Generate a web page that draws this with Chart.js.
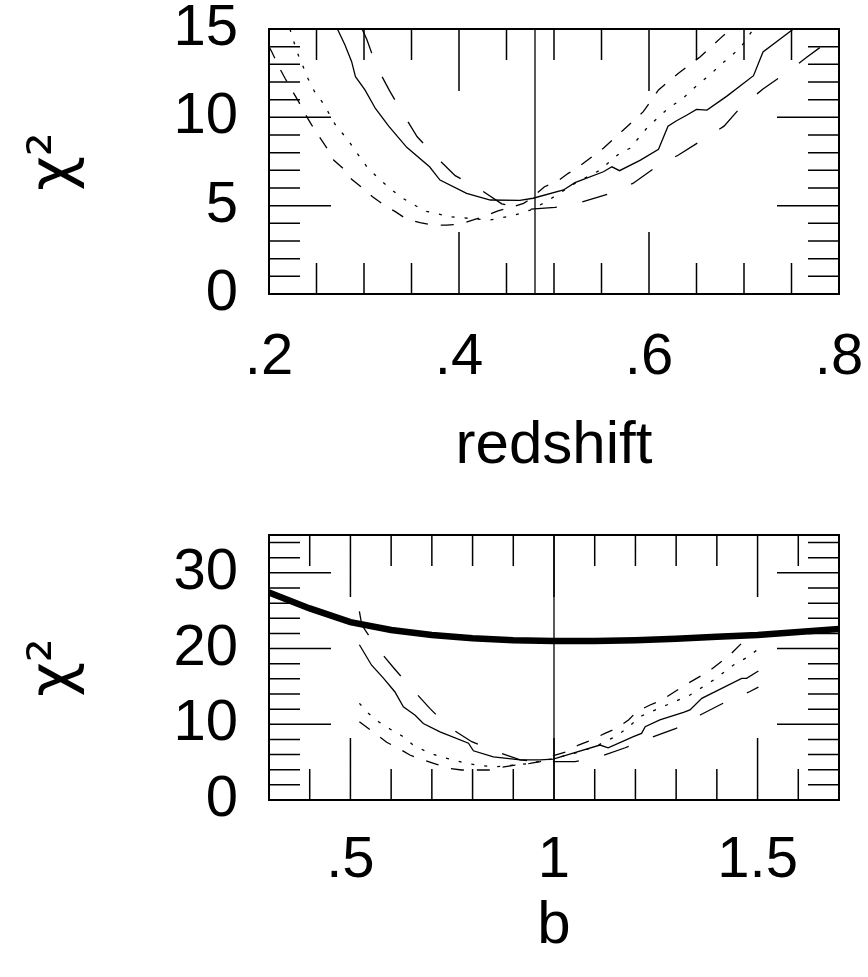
<!DOCTYPE html>
<html>
<head>
<meta charset="utf-8">
<script src="https://cdn.jsdelivr.net/npm/chart.js@4.4.1/dist/chart.umd.min.js"></script>
<style>
  body { margin: 0; background: #fff; }
  canvas { display: block; position: absolute; left: 0; }
  #topChart { top: 0; }
  #bottomChart { top: 490px; }
</style>
</head>
<body>
<canvas id="topChart" width="868" height="490"></canvas>
<canvas id="bottomChart" width="868" height="487"></canvas>
<script>
// --- top panel: chi^2 against redshift ---
const zTicks = [0.2, 0.4, 0.6, 0.8];
const chiTopTicks = [0, 5, 10, 15];
const zBest = 0.48;

const zSolid = [0.272, 0.280, 0.287, 0.291, 0.301, 0.312, 0.326, 0.345, 0.369, 0.380, 0.408, 0.433, 0.464, 0.478, 0.510, 0.522, 0.552, 0.561, 0.569, 0.591, 0.610, 0.620, 0.629, 0.640, 0.650, 0.661, 0.682, 0.710, 0.720, 0.752];
const chiSolid = [15.0, 14.1, 13.15, 12.3, 11.55, 10.5, 9.5, 8.3, 7.2, 6.45, 5.7, 5.32, 5.3, 5.42, 5.89, 6.3, 6.92, 7.2, 6.98, 7.58, 8.19, 9.5, 9.81, 10.13, 10.45, 10.41, 11.2, 12.36, 13.7, 15.0];

const zLongDash = [0.298, 0.303, 0.313, 0.327, 0.341, 0.356, 0.375, 0.396, 0.420, 0.445, 0.473, 0.501, 0.529, 0.557, 0.583, 0.605, 0.631, 0.655, 0.679, 0.697, 0.720, 0.744, 0.766, 0.790, 0.800];
const chiLongDash = [15.0, 14.4, 12.9, 11.5, 10.2, 8.9, 7.8, 6.7, 6.0, 5.1, 4.8, 4.9, 5.2, 5.66, 6.26, 7.1, 7.87, 8.68, 9.5, 10.6, 11.6, 12.5, 13.4, 14.35, 14.8];

const zShortDash = [0.200, 0.203, 0.210, 0.217, 0.224, 0.231, 0.238, 0.245, 0.253, 0.261, 0.268, 0.278, 0.287, 0.299, 0.309, 0.321, 0.333, 0.345, 0.359, 0.373, 0.387, 0.401, 0.415, 0.427, 0.441, 0.455, 0.468, 0.476, 0.490, 0.503, 0.515, 0.527, 0.540, 0.552, 0.573, 0.594, 0.610, 0.631, 0.654, 0.675, 0.686];
const chiShortDash = [14.0, 13.7, 12.9, 12.2, 11.55, 10.9, 10.2, 9.56, 8.9, 8.25, 7.58, 7.11, 6.49, 5.98, 5.51, 5.04, 4.66, 4.23, 4.04, 3.9, 3.9, 3.96, 4.19, 4.41, 4.7, 4.91, 5.13, 5.42, 6.07, 6.36, 6.83, 7.24, 7.77, 8.25, 9.28, 10.32, 11.55, 12.5, 13.43, 14.47, 15.0];

const zDotted = [0.222, 0.226, 0.231, 0.236, 0.241, 0.248, 0.257, 0.271, 0.282, 0.289, 0.298, 0.303, 0.317, 0.338, 0.350, 0.364, 0.390, 0.419, 0.433, 0.459, 0.475, 0.491, 0.522, 0.548, 0.569, 0.580, 0.599, 0.610, 0.622, 0.634, 0.645, 0.655, 0.666, 0.677, 0.687, 0.697, 0.706, 0.710];
const chiDotted = [15.0, 14.3, 13.5, 12.86, 12.2, 11.45, 10.8, 9.47, 8.81, 8.25, 7.58, 7.2, 6.45, 5.51, 5.13, 4.7, 4.38, 4.24, 4.19, 4.47, 4.75, 5.2, 6.26, 7.0, 7.96, 8.25, 9.47, 10.0, 10.6, 10.98, 11.55, 12.0, 12.5, 13.05, 13.5, 14.0, 14.7, 15.0];

// --- bottom panel: chi^2 against b ---
const bTicks = [0.5, 1, 1.5];
const chiBottomTicks = [0, 10, 20, 30];
const bBest = 1.0;

const bThick = [0.3, 0.4, 0.5, 0.6, 0.7, 0.8, 0.9, 1.0, 1.1, 1.2, 1.3, 1.4, 1.5, 1.6, 1.7];
const chiThick = [27.4, 25.3, 23.5, 22.45, 21.8, 21.35, 21.1, 21.0, 21.0, 21.1, 21.3, 21.55, 21.8, 22.2, 22.6];

const bSolid = [0.522, 0.552, 0.581, 0.609, 0.630, 0.659, 0.679, 0.720, 0.790, 0.802, 0.851, 0.917, 0.966, 0.998, 1.047, 1.113, 1.133, 1.195, 1.215, 1.224, 1.260, 1.318, 1.334, 1.363, 1.461, 1.473, 1.502];
const chiSolidB = [20.5, 17.8, 16.1, 14.3, 12.3, 11.2, 10.1, 9.0, 7.5, 6.5, 5.7, 5.3, 5.3, 5.4, 6.2, 7.26, 6.9, 8.37, 8.8, 9.69, 10.57, 11.58, 11.9, 13.43, 16.07, 16.07, 17.04];

const bLongDash = [0.522, 0.528, 0.565, 0.607, 0.650, 0.695, 0.740, 0.798, 0.859, 0.917, 0.966, 1.052, 1.121, 1.175, 1.240, 1.300, 1.359, 1.420, 1.480, 1.502];
const chiLongDashB = [24.9, 23.1, 20.1, 17.4, 14.75, 12.1, 9.68, 7.7, 6.38, 5.3, 5.06, 5.06, 5.9, 6.9, 8.28, 9.47, 11.23, 12.9, 14.3, 14.9];

const bShortDash = [0.522, 0.536, 0.560, 0.589, 0.618, 0.646, 0.679, 0.712, 0.740, 0.773, 0.806, 0.841, 0.872, 0.904, 0.941, 0.966, 1.003, 1.031, 1.060, 1.088, 1.125, 1.154, 1.183, 1.203, 1.236, 1.265, 1.322, 1.379, 1.432, 1.477];
const chiShortDashB = [10.34, 9.77, 8.81, 7.62, 6.83, 5.94, 5.28, 4.71, 4.19, 3.96, 3.96, 3.96, 4.32, 4.62, 4.84, 5.06, 5.94, 6.38, 7.26, 7.83, 8.8, 9.47, 10.57, 11.66, 12.55, 13.2, 15.19, 16.95, 19.15, 21.57];

const bDotted = [0.522, 0.544, 0.569, 0.597, 0.626, 0.654, 0.687, 0.720, 0.753, 0.786, 0.822, 0.855, 0.888, 0.941, 0.982, 1.040, 1.101, 1.158, 1.216, 1.277, 1.334, 1.392, 1.441, 1.477, 1.502];
const chiDottedB = [12.77, 11.45, 10.34, 9.38, 8.49, 7.26, 6.38, 5.72, 5.28, 4.84, 4.53, 4.4, 4.53, 4.84, 5.28, 6.0, 7.04, 8.59, 11.13, 12.55, 13.87, 15.85, 17.83, 18.93, 19.94];

Chart.defaults.font.family = '"Liberation Sans", Arial, Helvetica, sans-serif';
Chart.defaults.color = '#000';

const toPoints = (xs, ys) => xs.map((x, i) => ({ x: x, y: ys[i] }));
const shortNum = v => String(v).replace(/^0\./, '.');

function curve(xs, ys, dash, width) {
    return {
        data: toPoints(xs, ys),
        showLine: true,
        borderColor: '#000',
        borderWidth: width || 1.3,
        borderDash: dash || [],
        borderCapStyle: width ? 'round' : 'butt',
        pointRadius: 0,
        tension: 0
    };
}

// walk the minor tick positions of an axis, flagging the major ones
function eachTick(min, max, step, major, fn) {
    const k0 = Math.ceil(min / step - 1e-6);
    const k1 = Math.floor(max / step + 1e-6);
    for (let k = k0; k <= k1; k++) {
        const v = k * step;
        if (Math.abs(v - min) < 1e-6 || Math.abs(v - max) < 1e-6) continue;
        const r = v / major;
        fn(v, Math.abs(r - Math.round(r)) < 1e-6);
    }
}

// box frame with inward minor/major ticks on all four sides
const frameTicks = {
    id: 'frameTicks',
    afterDatasetsDraw(chart, args, opts) {
        const { ctx, chartArea: a, scales: { x, y } } = chart;
        ctx.save();
        ctx.strokeStyle = '#000';
        ctx.lineWidth = 1.5;
        ctx.beginPath();
        eachTick(x.min, x.max, opts.xMinor, opts.xMajor, (v, major) => {
            const px = x.getPixelForValue(v);
            const len = major ? opts.majorLen : opts.minorLen;
            ctx.moveTo(px, a.bottom); ctx.lineTo(px, a.bottom - len);
            ctx.moveTo(px, a.top); ctx.lineTo(px, a.top + len);
        });
        eachTick(y.min, y.max, opts.yMinor, opts.yMajor, (v, major) => {
            const py = y.getPixelForValue(v);
            const len = major ? opts.majorLen : opts.minorLen;
            ctx.moveTo(a.left, py); ctx.lineTo(a.left + len, py);
            ctx.moveTo(a.right, py); ctx.lineTo(a.right - len, py);
        });
        ctx.stroke();
        ctx.lineWidth = 2;
        ctx.strokeRect(a.left, a.top, a.right - a.left, a.bottom - a.top);
        ctx.restore();
    }
};

function axisOptions(cfg) {
    return {
        x: {
            type: 'linear',
            min: cfg.xMin,
            max: cfg.xMax,
            grid: { display: false, drawTicks: false },
            border: { display: false },
            afterBuildTicks: s => { s.ticks = cfg.xTicks.map(value => ({ value })); },
            // fixed band below the plot; labels may hang over the sides
            afterFit: s => { s.height = cfg.xHeight; s.paddingLeft = 0; s.paddingRight = 0; },
            ticks: { font: { size: 58 }, padding: cfg.xPad, maxRotation: 0, callback: shortNum },
            title: { display: true, text: cfg.xTitle, font: { size: 60 }, padding: { top: 0, bottom: cfg.titlePad } }
        },
        y: {
            type: 'linear',
            min: cfg.yMin,
            max: cfg.yMax,
            grid: { display: false, drawTicks: false },
            border: { display: false },
            afterBuildTicks: s => { s.ticks = cfg.yTicks.map(value => ({ value })); },
            afterFit: s => { s.width = 269; s.paddingTop = 0; s.paddingBottom = 0; },
            ticks: { font: { size: 58 }, padding: 31 },
            title: {
                display: true, text: 'χ²',
                font: { family: '"DejaVu Sans", sans-serif', size: 60 },
                padding: { top: 19, bottom: 0 }
            }
        }
    };
}

function baseOptions(scales, padTop, ticks) {
    return {
        responsive: false,
        animation: false,
        layout: { padding: { top: padTop, right: 29, left: 0, bottom: 0 } },
        plugins: { legend: { display: false }, tooltip: { enabled: false }, frameTicks: ticks },
        scales: scales
    };
}

new Chart(document.getElementById('topChart'), {
    type: 'scatter',
    data: {
        datasets: [
            curve([zBest, zBest], [0, 15]),
            curve(zSolid, chiSolid),
            curve(zLongDash, chiLongDash, [26, 26]),
            curve(zShortDash, chiShortDash, [13, 13]),
            curve(zDotted, chiDotted, [3, 10])
        ]
    },
    options: baseOptions(
        axisOptions({ xMin: 0.2, xMax: 0.8, xTicks: zTicks, xTitle: 'redshift', xHeight: 196, xPad: 29, titlePad: 8,
                      yMin: 0, yMax: 15, yTicks: chiTopTicks }),
        29,
        { xMinor: 0.05, xMajor: 0.2, yMinor: 1, yMajor: 5, minorLen: 31, majorLen: 62 }
    ),
    plugins: [frameTicks]
});

new Chart(document.getElementById('bottomChart'), {
    type: 'scatter',
    data: {
        datasets: [
            curve([bBest, bBest], [0, 35]),
            curve(bThick, chiThick, [], 6.5),
            curve(bSolid, chiSolidB),
            curve(bLongDash, chiLongDashB, [26, 26]),
            curve(bShortDash, chiShortDashB, [13, 13]),
            curve(bDotted, chiDottedB, [3, 10])
        ]
    },
    options: baseOptions(
        axisOptions({ xMin: 0.3, xMax: 1.7, xTicks: bTicks, xTitle: 'b', xHeight: 177, xPad: 26, titlePad: 15,
                      yMin: 0, yMax: 35, yTicks: chiBottomTicks }),
        45,
        { xMinor: 0.1, xMajor: 0.5, yMinor: 2, yMajor: 10, minorLen: 31, majorLen: 62 }
    ),
    plugins: [frameTicks]
});
</script>
</body>
</html>
